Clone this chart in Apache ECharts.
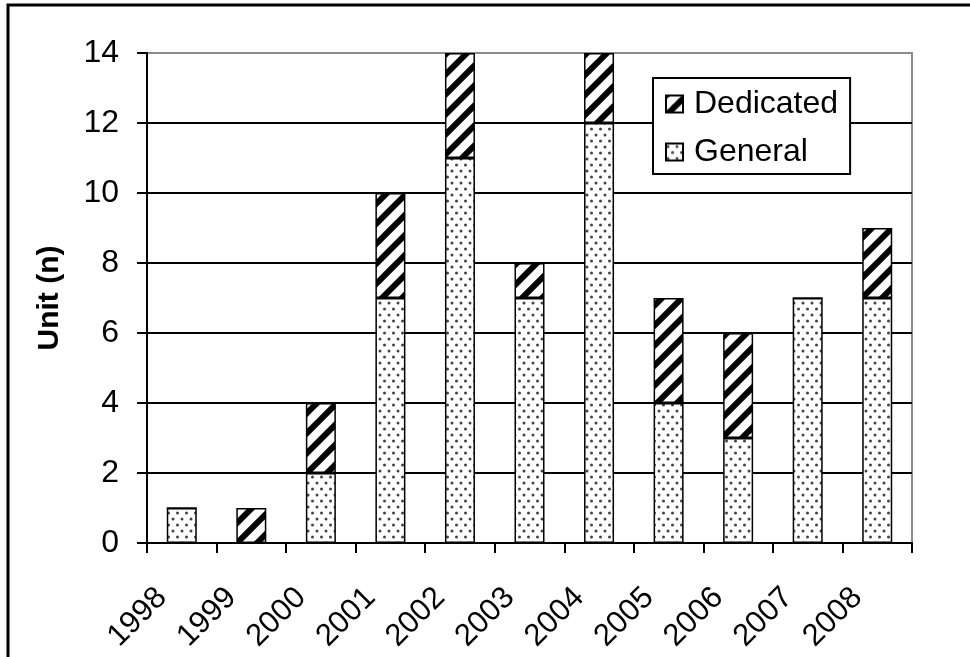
<!DOCTYPE html>
<html>
<head>
<meta charset="utf-8">
<title>Units per year</title>
<script src="https://cdn.jsdelivr.net/npm/echarts@6/dist/echarts.min.js"></script>
<style>
  html, body { margin: 0; padding: 0; background: #fff; }
  #chart { width: 970px; height: 657px; }
</style>
</head>
<body>
<div id="chart"></div>
<script>
// Years on the category axis
const years = ['1998', '1999', '2000', '2001', '2002', '2003', '2004', '2005', '2006', '2007', '2008'];
// Units per year, split by type (stacked: General at the bottom, Dedicated on top)
const generalUnits = [1, 0, 2, 7, 11, 7, 12, 4, 3, 7, 7];
const dedicatedUnits = [0, 1, 2, 3, 3, 1, 2, 3, 3, 0, 2];
// Value axis ticks
const yTicks = [0, 2, 4, 6, 8, 10, 12, 14];

const FONT = '"Liberation Sans", Arial, sans-serif';

// Diagonal black stripes on white
function stripePattern() {
  const p = 20;
  const c = document.createElement('canvas');
  c.width = p; c.height = p;
  const g = c.getContext('2d');
  g.fillStyle = '#fff';
  g.fillRect(0, 0, p, p);
  g.strokeStyle = '#000';
  g.lineWidth = 6;
  g.lineCap = 'square';
  for (const x0 of [-p, 0, p]) {
    g.beginPath();
    g.moveTo(x0, p);
    g.lineTo(x0 + p, 0);
    g.stroke();
  }
  return c;
}

// Small grey dots on white, staggered rows
function dotPattern() {
  const w = 9, h = 12;
  const c = document.createElement('canvas');
  c.width = w; c.height = h;
  const g = c.getContext('2d');
  g.fillStyle = '#fff';
  g.fillRect(0, 0, w, h);
  g.fillStyle = '#444';
  for (const [x, y] of [[2, 3], [6.5, 9]]) {
    g.beginPath();
    g.arc(x, y, 1.5, 0, Math.PI * 2);
    g.fill();
  }
  return c;
}

const stripeFill = { image: stripePattern(), repeat: 'repeat' };
const dotFill = { image: dotPattern(), repeat: 'repeat' };

const chart = echarts.init(document.getElementById('chart'), null, { renderer: 'canvas' });

chart.setOption({
  animation: false,
  backgroundColor: '#fff',
  textStyle: { fontFamily: FONT, color: '#000' },
  graphic: [{
    type: 'rect',
    shape: { x: 8, y: 5, width: 990, height: 700 },
    style: { fill: 'none', stroke: '#000', lineWidth: 3 },
    silent: true,
    z: 100
  }],
  grid: {
    left: 147, right: 58, top: 53, bottom: 114,
    show: true,
    borderColor: '#8c8c8c',
    borderWidth: 2,
    backgroundColor: 'transparent'
  },
  legend: {
    orient: 'vertical',
    left: 653,
    top: 78,
    data: ['Dedicated', 'General'],
    backgroundColor: '#fff',
    borderColor: '#000',
    borderWidth: 2,
    borderRadius: 0,
    padding: [10, 12, 6, 12],
    itemGap: 16,
    itemWidth: 17,
    itemHeight: 17,
    icon: 'rect',
    textStyle: { fontSize: 32, fontFamily: FONT, color: '#000', padding: [0, 0, 0, 6] }
  },
  xAxis: {
    type: 'category',
    data: years,
    boundaryGap: true,
    axisLine: { lineStyle: { color: '#000', width: 2 } },
    axisTick: { show: true, length: 10, lineStyle: { color: '#000', width: 2 } },
    axisLabel: {
      interval: 0,
      rotate: 45,
      margin: 30,
      padding: [0, 28, 0, 0],
      fontSize: 31,
      fontFamily: FONT,
      color: '#000'
    },
    splitLine: { show: false }
  },
  yAxis: {
    type: 'value',
    min: yTicks[0],
    max: yTicks[yTicks.length - 1],
    interval: yTicks[1] - yTicks[0],
    name: 'Unit (n)',
    nameLocation: 'middle',
    nameRotate: 90,
    nameGap: 82,
    nameTextStyle: { fontSize: 30, fontWeight: 'bold', fontFamily: FONT, color: '#000' },
    axisLine: { show: true, lineStyle: { color: '#000', width: 2 } },
    axisTick: { show: true, length: 10, lineStyle: { color: '#000', width: 2 } },
    axisLabel: { margin: 28, fontSize: 32, fontFamily: FONT, color: '#000' },
    splitLine: {
      show: true,
      lineStyle: {
        color: yTicks.map((v, i) => (i === yTicks.length - 1 ? '#8c8c8c' : '#000')),
        width: 2
      }
    }
  },
  series: [
    {
      name: 'General',
      type: 'bar',
      stack: 'units',
      data: generalUnits,
      barWidth: 30,
      itemStyle: { color: dotFill, borderColor: '#000', borderWidth: 1.5 },
      z: 3
    },
    {
      name: 'Dedicated',
      type: 'bar',
      stack: 'units',
      data: dedicatedUnits,
      barWidth: 30,
      itemStyle: { color: stripeFill, borderColor: '#000', borderWidth: 1.5 },
      z: 3
    }
  ]
});
</script>
</body>
</html>
